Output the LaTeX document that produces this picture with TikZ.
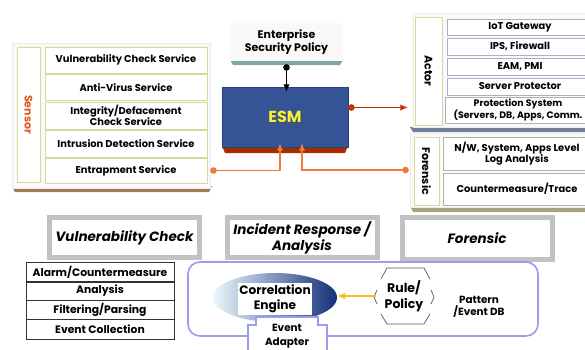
\documentclass[tikz,border=0pt]{standalone}
\usepackage{fontspec}
\setmainfont{Poppins}
\usetikzlibrary{arrows.meta,shapes.geometric}
\definecolor{esmblue}{HTML}{345495}
\definecolor{esmtext}{HTML}{F4EE3C}
\definecolor{sensred}{HTML}{E2561E}
\definecolor{conorange}{HTML}{F07A3A}
\definecolor{conred}{HTML}{C83200}
\definecolor{svcline}{HTML}{D8D89A}
\definecolor{actline}{HTML}{B8A8C8}
\definecolor{forline}{HTML}{A8B4A4}
\definecolor{frame}{HTML}{C2C2C2}
\definecolor{boxline}{HTML}{9C9CEE}
\definecolor{rulegold}{HTML}{F6C21A}
\definecolor{corrlight}{HTML}{EAF8FD}
\definecolor{corrmid}{HTML}{8EC2EC}
\definecolor{corrdark}{HTML}{14307A}
\tikzset{
  txt/.style={font=\bfseries\fontsize{9.9}{10.6}\selectfont, align=center, inner sep=0pt},
  svc/.style={txt, draw=svcline, fill=white, minimum width=162pt, minimum height=26pt},
  act/.style={txt, draw=actline, fill=white, minimum width=146pt},
  forn/.style={txt, draw=forline, fill=white, minimum width=148pt},
  lbl/.style={draw=svcline, fill=white, line width=0.6pt},
  vlbl/.style={rotate=-90, txt, font=\bfseries\fontsize{11}{12}\selectfont},
  panel/.style={draw=gray!15, fill=gray!4},
  title/.style={draw=frame, line width=5pt, fill=white, minimum width=150pt, inner sep=0pt,
    font=\bfseries\itshape\fontsize{13.5}{16}\selectfont, align=center},
  layer/.style={txt, draw=black!80, line width=0.7pt, minimum width=148pt,
    font=\bfseries\fontsize{10.8}{12}\selectfont},
  link/.style={line width=1.3pt, {Circle[length=6.5pt]}-{Latex[length=7.5pt,width=6.5pt]}}
}
\begin{document}
\begin{tikzpicture}[x=1pt,y=-1pt]
  \clip (0,0) rectangle (585,349);
  \fill[white] (0,0) rectangle (585,349);

  % sensor side
  \fill[brown!70!black!80] (12,186) -- (212,186) -- (209,192) -- (15,192) -- cycle;
  \node[panel, minimum width=198pt, minimum height=145pt] (sensorpanel) at (111,115.5) {};
  \node[lbl, minimum width=23pt, minimum height=135pt] (sensorlbl) at (28.5,114.5) {};
  \node[vlbl, text=sensred] at (sensorlbl) {Sensor};
  \node[svc] (vcs) at (126,60) {Vulnerability Check Service};
  \node[svc] (avs) at (126,87.5) {Anti-Virus Service};
  \node[svc, minimum height=27pt] (idcs) at (126,115.5) {Integrity/Defacement\\Check Service};
  \node[svc, minimum height=27pt] (ids) at (126,143.5) {Intrusion Detection Service};
  \node[svc, minimum height=25pt] (ents) at (126,170.5) {Entrapment Service};

  % policy and ESM
  \fill[gray!60!teal!70] (230,60) -- (343,60) -- (340,65) -- (233,65) -- cycle;
  \node[txt, fill=gray!5, minimum width=113pt, minimum height=38pt,
    font=\bfseries\fontsize{11}{13}\selectfont] (policy) at (286.5,42) {Enterprise\\Security Policy};
  \fill[conred!85!black] (222,146) -- (348,146) -- (345,153) -- (225,153) -- cycle;
  \node[draw=esmblue!80!black, fill=esmblue, minimum width=126pt, minimum height=60pt] (esm) at (285,117) {};
  \node[text=black!70, font=\bfseries\fontsize{16}{18}\selectfont] at ([xshift=0.9pt,yshift=-0.9pt]esm) {ESM};
  \node[text=esmtext, font=\bfseries\fontsize{16}{18}\selectfont] (esmlbl) at (esm) {ESM};

  % actor side
  \fill[esmblue!40!gray!90] (410,127) -- (585,127) -- (585,132) -- (413,132) -- cycle;
  \node[panel, minimum width=177pt, minimum height=114pt] (actorpanel) at (501.5,70) {};
  \node[lbl, minimum width=27pt, minimum height=108pt] (actorlbl) at (428.5,71) {};
  \node[vlbl] at (actorlbl) {Actor};
  \node[act, minimum height=16pt] (iot) at (520,27) {IoT Gateway};
  \node[act, minimum height=17pt] (ips) at (520,46.5) {IPS, Firewall};
  \node[act, minimum height=17pt] (eam) at (520,66.5) {EAM, PMI};
  \node[act, minimum height=17pt] (srvp) at (520,86.5) {Server Protector};
  \node[act, minimum height=26pt, font=\bfseries\fontsize{9.4}{10.6}\selectfont] (prot) at (518,110)
    {Protection System\\(Servers, DB, Apps, Comm.};

  % forensic side
  \fill[olive!30!gray!80] (410,206) -- (585,206) -- (585,212) -- (413,212) -- cycle;
  \node[panel, minimum width=180pt, minimum height=74pt] (forpanel) at (500,170) {};
  \node[lbl, minimum width=25pt, minimum height=68pt] (forlbl) at (426.5,171) {};
  \node[vlbl] at (forlbl) {Forensic};
  \node[forn, minimum height=33pt] (logan) at (517,153.5) {N/W, System, Apps Level\\Log Analysis};
  \node[forn, minimum height=32pt] (trace) at (517,189) {Countermeasure/Trace};

  % connectors
  \draw[link] ([yshift=-3pt]policy.south) -- ([yshift=-5pt]policy.south |- esm.north);
  \coordinate (esmout) at ([yshift=9.5pt]esm.east);
  \draw[link, conred, shorten >=5pt] (esmout) -- (esmout -| actorpanel.west);
  \draw[link, conorange] (sensorpanel.east |- ents) -| ([xshift=-5pt,yshift=4pt]esm.south);
  \draw[link, conorange] ([xshift=-1pt]forpanel.west) -| ([xshift=17pt,yshift=4pt]esm.south);

  % bottom titles
  \node[title, minimum height=40pt] (vulchk) at (124.5,237.5) {Vulnerability Check};
  \node[title, minimum height=40pt] (incresp) at (302,237.5) {Incident Response /\\Analysis};
  \node[title, minimum height=42pt] (forens) at (477,238.5) {Forensic};

  % layers
  \node[layer, minimum height=20pt] (alarm) at (100,272) {Alarm/Countermeasure};
  \node[layer, minimum height=19pt] (analysis) at (100,291) {Analysis};
  \node[layer, minimum height=19pt] (filter) at (100,310) {Filtering/Parsing};
  \node[layer, minimum height=20pt] (evcoll) at (100,329) {Event Collection};

  % correlation box
  \draw[boxline, line width=1.6pt, rounded corners=12pt] (188,262) rectangle (538,336);
  \node[ellipse, left color=corrlight, middle color=corrmid, right color=corrdark,
    minimum width=124pt, minimum height=49pt] (corrshape) at (275,297.5) {};
  \node[txt, fill=white, inner sep=1.5pt, font=\bfseries\fontsize{12.2}{15}\selectfont] (corr) at (275,299)
    {Correlation\\Engine};
  \node[txt, font=\bfseries\fontsize{12.5}{15.5}\selectfont] (rule) at (404,296) {Rule/\\Policy};
  \draw[black!65, line width=0.7pt] (381,279) -- (387,268) -- (424,268) -- (430,279);
  \draw[black!65, line width=0.7pt] (381,314) -- (387,324) -- (424,324) -- (430,314);
  \draw[black!65, line width=0.7pt] (377,290) -- (374,297) -- (377,304);
  \draw[black!65, line width=0.7pt] (431,290) -- (434,297) -- (431,304);
  \coordinate (rulein) at (376,296);
  \draw[rulegold, line width=1.8pt, -{Latex[length=8pt,width=7pt]}] (rulein) -- (corrshape.east |- rulein);
  \node[txt, font=\bfseries\fontsize{10.4}{12.5}\selectfont] (patdb) at (479,307) {Pattern\\/Event DB};

  % event adapter
  \draw[boxline, fill=white, line width=2pt] (248,352) -- (248,325) -- (256,325) -- (256,317)
    -- (318,317) -- (318,325) -- (327,325) -- (327,352);
  \node[txt, font=\bfseries\fontsize{10.4}{13.5}\selectfont] (adapter) at (287,336) {Event\\Adapter};
\end{tikzpicture}
\end{document}
